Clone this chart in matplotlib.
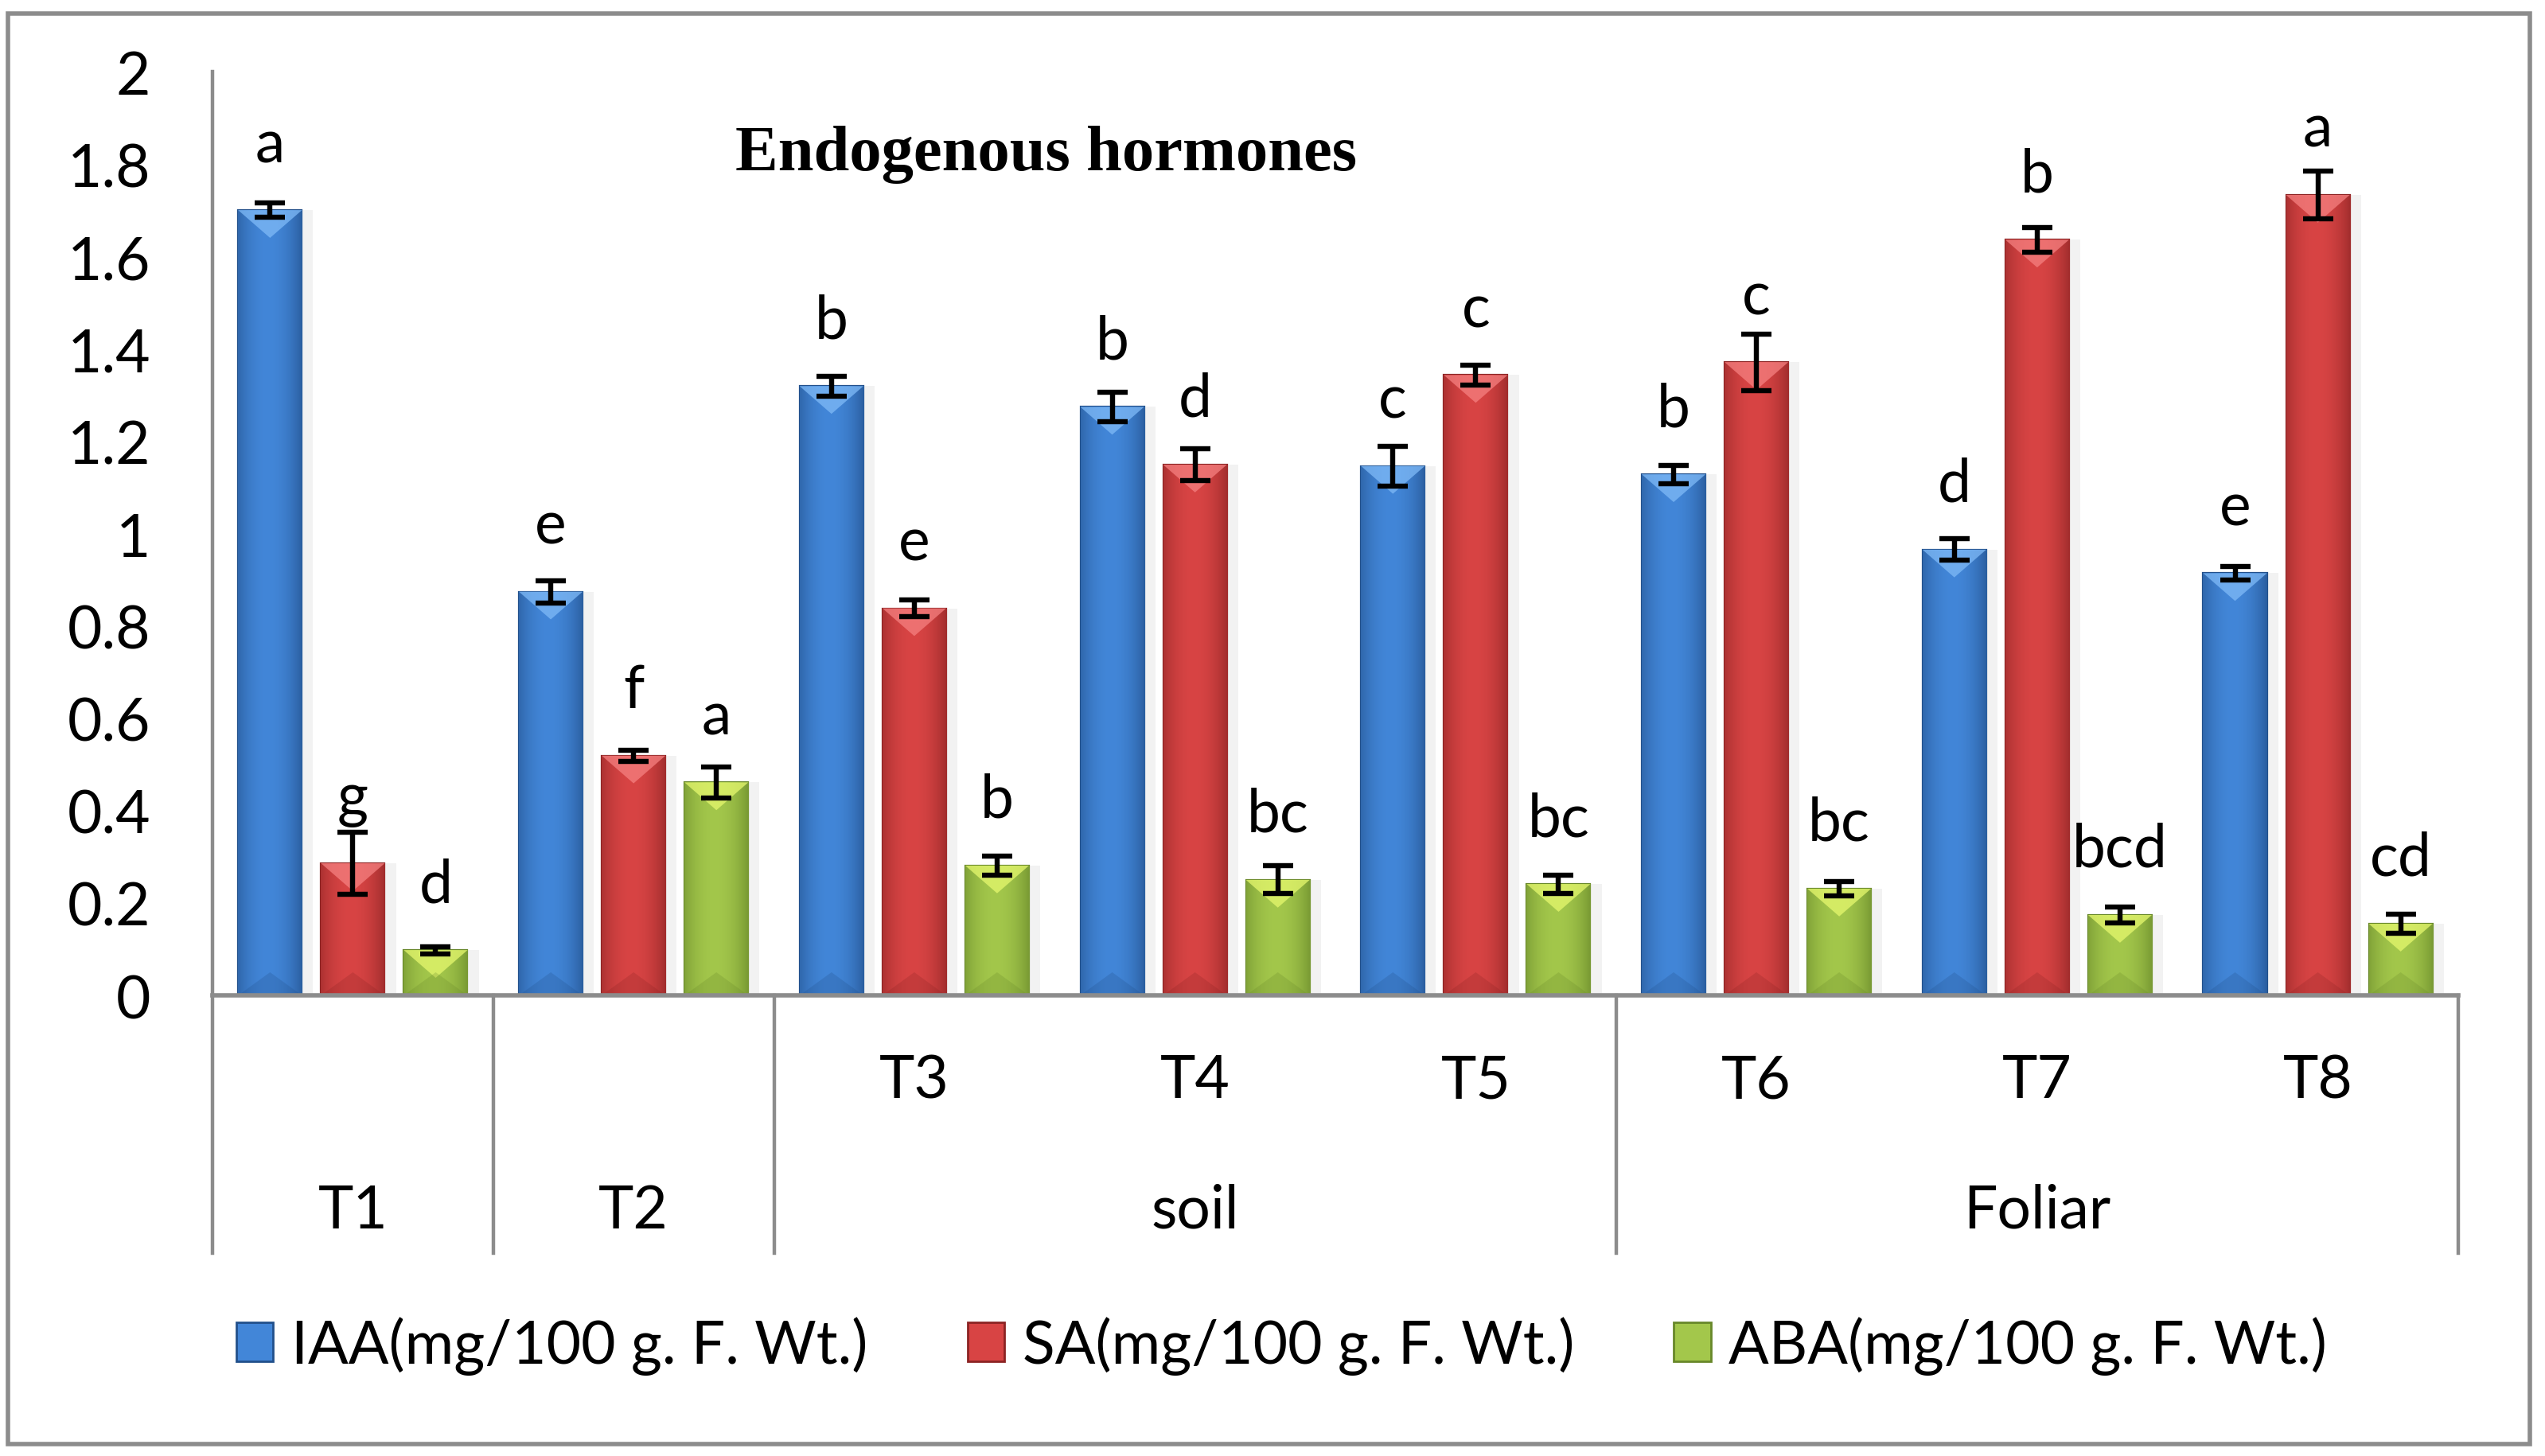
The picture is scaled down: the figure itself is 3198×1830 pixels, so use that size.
import numpy as np
import matplotlib
matplotlib.use("Agg")
import matplotlib.pyplot as plt
from matplotlib.patches import Rectangle, Polygon
from matplotlib.colors import to_rgb

# Datos (mg/100 g F. Wt.)
treatments = ["T1", "T2", "T3", "T4", "T5", "T6", "T7", "T8"]
sub_labels = ["", "", "T3", "T4", "T5", "T6", "T7", "T8"]
groups = ["T1", "T2", "soil", "Foliar"]
group_sizes = [1, 1, 3, 3]

iaa = [1.700, 0.874, 1.319, 1.274, 1.146, 1.128, 0.965, 0.914]
iaa_err = [0.016, 0.024, 0.022, 0.032, 0.043, 0.020, 0.023, 0.015]
iaa_letters = ["a", "e", "b", "b", "c", "b", "d", "e"]

sa = [0.286, 0.519, 0.838, 1.149, 1.343, 1.371, 1.636, 1.733]
sa_err = [0.067, 0.012, 0.018, 0.035, 0.021, 0.061, 0.027, 0.052]
sa_letters = ["g", "f", "e", "d", "c", "c", "b", "a"]

aba = [0.098, 0.461, 0.281, 0.250, 0.241, 0.231, 0.174, 0.155]
aba_err = [0.008, 0.033, 0.020, 0.030, 0.020, 0.016, 0.018, 0.021]
aba_letters = ["d", "a", "b", "bc", "bc", "bc", "bcd", "cd"]

series_names = ["IAA(mg/100 g. F. Wt.)", "SA(mg/100 g. F. Wt.)", "ABA(mg/100 g. F. Wt.)"]
yticks = [0, 0.2, 0.4, 0.6, 0.8, 1, 1.2, 1.4, 1.6, 1.8, 2]
ytick_labels = ["0", "0.2", "0.4", "0.6", "0.8", "1", "1.2", "1.4", "1.6", "1.8", "2"]

# colores: (oscuro, claro, bisel)
styles = [
    ("#22508b", "#4286d8", "#7fbaf7"),
    ("#8c2424", "#d84444", "#f58080"),
    ("#68882a", "#a3c74b", "#e6f86e"),
]

plt.rcParams["font.family"] = ["Lato", "DejaVu Sans"]
GRID = "#8c8c8c"

fig = plt.figure(figsize=(15.99, 9.155), dpi=200)
ax = fig.add_axes([0.0835, 0.3162, 0.8824, 0.6341])

x = np.arange(len(treatments)) + 0.5
width = 0.227
offsets = [-0.295, 0.0, 0.295]
data = [(iaa, iaa_err, iaa_letters), (sa, sa_err, sa_letters), (aba, aba_err, aba_letters)]


def gradient(dark, light, n=80):
    t = np.linspace(0, 1, n)
    w = np.clip(np.sin(np.pi * (0.1 + 0.85 * t)), 0, 1) ** 0.7
    d = np.array(to_rgb(dark))
    l = np.array(to_rgb(light))
    cols = d[None, :] * (1 - w[:, None]) + l[None, :] * w[:, None]
    return cols[None, :, :]


for (vals, errs, letters), off, (dark, light, bevel) in zip(data, offsets, styles):
    xs = x + off
    bars = ax.bar(xs, vals, width, color=light, edgecolor=dark, linewidth=0.8, zorder=2)
    grad = gradient(dark, light)
    for rect in bars:
        x0, w, h = rect.get_x(), rect.get_width(), rect.get_height()
        # sombra suave a la derecha
        ax.add_patch(Rectangle((x0 + 0.01, 0), w + 0.03, h, color="#000000", alpha=0.05, lw=0, zorder=1))
        im = ax.imshow(grad, extent=(x0, x0 + w, 0, h), aspect="auto", interpolation="bicubic", zorder=2.1)
        im.set_clip_path(rect)
        # bisel superior e inferior
        ax.add_patch(Polygon([(x0, h), (x0 + w, h), (x0 + w / 2, h - 0.06)], closed=True,
                             color=bevel, alpha=0.75, lw=0, zorder=2.2))
        ax.add_patch(Polygon([(x0, 0), (x0 + w, 0), (x0 + w / 2, 0.05)], closed=True,
                             color=dark, alpha=0.25, lw=0, zorder=2.2))
    ax.errorbar(xs, vals, yerr=errs, fmt="none", ecolor="black", elinewidth=2.3,
                capsize=6.8, capthick=2.3, zorder=4)
    # letras colocadas respecto al tope de la barra (como en Excel)
    for xi, v, lab in zip(xs, vals, letters):
        ax.annotate(lab, (xi, v), xytext=(0, 22), textcoords="offset points",
                    ha="center", va="baseline", fontsize=27, zorder=5)

ax.set_xlim(0, 8)
ax.set_ylim(0, 2)
ax.set_aspect("auto")
ax.set_yticks(yticks)
ax.set_yticklabels(ytick_labels)
ax.tick_params(axis="y", length=0, pad=28, labelsize=27)
ax.set_xticks([])
for s in ["top", "right"]:
    ax.spines[s].set_visible(False)
ax.spines["left"].set_color(GRID)
ax.spines["left"].set_linewidth(1.6)
ax.spines["bottom"].set_color(GRID)
ax.spines["bottom"].set_linewidth(2.0)
ax.spines["bottom"].set_zorder(3)

# eje de categorias en dos niveles
tr = ax.get_xaxis_transform()
for xi, lab in zip(x, sub_labels):
    if lab:
        ax.text(xi, -0.092, lab, transform=tr, ha="center", va="center", fontsize=27)
edges = np.concatenate([[0], np.cumsum(group_sizes)])
for g, a, b in zip(groups, edges[:-1], edges[1:]):
    ax.text((a + b) / 2, -0.2326, g, transform=tr, ha="center", va="center", fontsize=27)
for e in edges:
    ax.plot([e, e], [0, -0.279], transform=tr, color=GRID, lw=1.6, clip_on=False)

fig.text(0.4112, 0.894, "Endogenous hormones", ha="center", va="center", fontsize=29,
         fontweight="bold", family=["Liberation Serif", "DejaVu Serif"])

handles = [Rectangle((0, 0), 1, 1, facecolor=light, edgecolor=dark, lw=1.0) for dark, light, _ in styles]
fig.legend(handles, series_names, loc="center", bbox_to_anchor=(0.5036, 0.0759), ncol=3,
           frameon=False, fontsize=27, handlelength=0.62, handleheight=0.62,
           handletextpad=0.3, columnspacing=1.67)

fig.add_artist(Rectangle((0.0031, 0.0082), 0.991, 0.982, transform=fig.transFigure,
                         fill=False, edgecolor=GRID, lw=2.0))

fig.savefig("out.png", dpi=200)
